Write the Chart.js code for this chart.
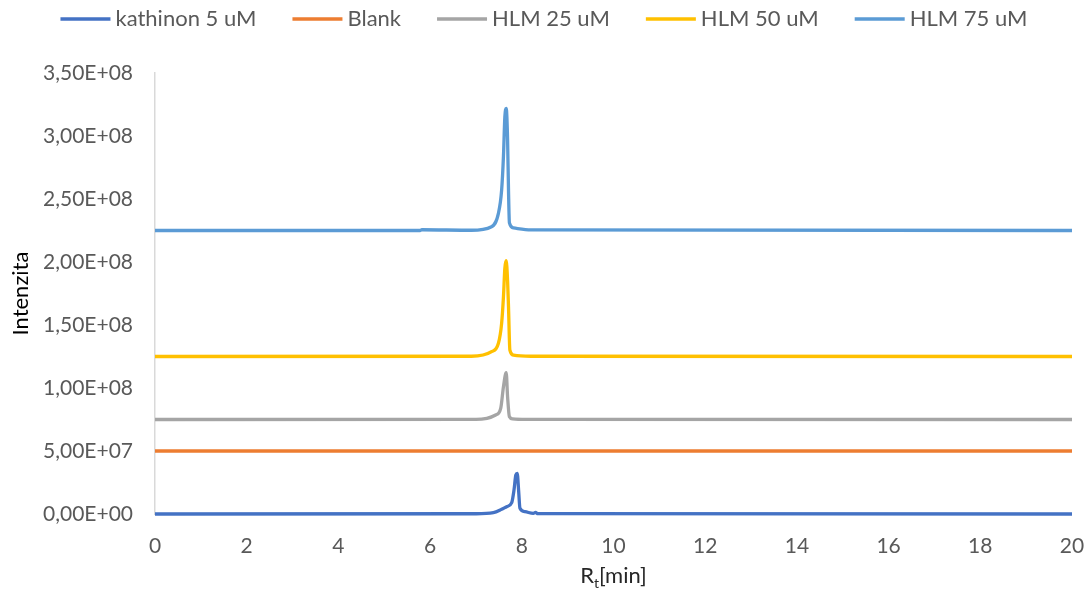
<!DOCTYPE html>
<html>
<head>
<meta charset="utf-8">
<script src="https://cdn.jsdelivr.net/npm/chart.js@4.4.0/dist/chart.umd.min.js"></script>
<style>
  html, body { margin: 0; padding: 0; background: #fff; }
  #wrap { width: 1084px; height: 596px; }
</style>
</head>
<body>
<div id="wrap"><canvas id="chart" width="1084" height="596"></canvas></div>
<script>
// --- Data ---
const seriesNames = ['kathinon 5 uM', 'Blank', 'HLM 25 uM', 'HLM 50 uM', 'HLM 75 uM'];
const seriesColors = ['#4472C4', '#ED7D31', '#A5A5A5', '#FFC000', '#5B9BD5'];

const kathinonX = [0, 7.0, 7.38, 7.56, 7.67, 7.78, 7.83, 7.87, 7.90, 7.93, 7.96, 8.07, 8.25, 8.30, 8.35, 20];
const kathinonY = [0, 2e5, 1.0e6, 3.7e6, 5.8e6, 9.0e6, 1.9e7, 3.1e7, 3.23e7, 1.9e7, 4.5e6, 1.8e6, 5e5, 1.2e6, 3e5, 0];

const blankX = [0, 20];
const blankY = [5.0e7, 5.0e7];

const hlm25X = [0, 7.0, 7.43, 7.54, 7.60, 7.66, 7.69, 7.73, 7.80, 8.1, 20];
const hlm25Y = [7.5e7, 7.51e7, 7.86e7, 8.39e7, 1.01e8, 1.121e8, 9.3e7, 7.72e7, 7.55e7, 7.51e7, 7.5e7];

const hlm50X = [0, 6.9, 7.34, 7.49, 7.56, 7.60, 7.63, 7.66, 7.69, 7.71, 7.74, 7.82, 8.2, 20];
const hlm50Y = [1.25e8, 1.252e8, 1.288e8, 1.355e8, 1.513e8, 1.725e8, 1.95e8, 2.01e8, 1.85e8, 1.645e8, 1.30e8, 1.26e8, 1.252e8, 1.25e8];

const hlm75X = [0, 5.78, 5.82, 6.9, 7.34, 7.49, 7.56, 7.60, 7.63, 7.66, 7.69, 7.71, 7.73, 7.82, 8.2, 20];
const hlm75Y = [2.25e8, 2.25e8, 2.256e8, 2.252e8, 2.28e8, 2.386e8, 2.57e8, 2.84e8, 3.15e8, 3.22e8, 2.97e8, 2.57e8, 2.31e8, 2.27e8, 2.255e8, 2.25e8];

const xTicks = [0, 2, 4, 6, 8, 10, 12, 14, 16, 18, 20];
const yTicks = [0, 5e7, 1e8, 1.5e8, 2e8, 2.5e8, 3e8, 3.5e8];

const FONT = 'Lato, "Open Sans", sans-serif';

function pairs(xs, ys) {
    return xs.map((x, i) => ({ x: x, y: ys[i] }));
}

// 3,50E+08 style
function sciLabel(v) {
    if (v === 0) return '0,00E+00';
    const e = Math.floor(Math.log10(Math.abs(v)) + 1e-9);
    const m = v / Math.pow(10, e);
    const sign = e < 0 ? '-' : '+';
    return m.toFixed(2).replace('.', ',') + 'E' + sign + String(Math.abs(e)).padStart(2, '0');
}

const xs = [kathinonX, blankX, hlm25X, hlm50X, hlm75X];
const ys = [kathinonY, blankY, hlm25Y, hlm50Y, hlm75Y];

const datasets = seriesNames.map((name, i) => ({
    label: name,
    data: pairs(xs[i], ys[i]),
    borderColor: seriesColors[i],
    backgroundColor: seriesColors[i],
    borderWidth: 3.3,
    pointRadius: 0,
    cubicInterpolationMode: 'monotone',
    clip: false,
    order: seriesNames.length - i
}));

// legend like Excel: short line + label, centered on top
const legendPlugin = {
    id: 'topLegend',
    afterDraw(chart) {
        const ctx = chart.ctx;
        const lineW = 50, gap = 5, itemGap = 36, y = 19;
        ctx.save();
        ctx.font = '22px ' + FONT;
        const widths = chart.data.datasets.map(d => ctx.measureText(d.label).width);
        const total = widths.reduce((a, w) => a + lineW + gap + w, 0) + itemGap * (widths.length - 1);
        let x = (chart.width - total) / 2 + 2;
        chart.data.datasets.forEach((d, i) => {
            ctx.strokeStyle = d.borderColor;
            ctx.lineWidth = 3.3;
            ctx.beginPath();
            ctx.moveTo(x, y);
            ctx.lineTo(x + lineW, y);
            ctx.stroke();
            ctx.fillStyle = '#595959';
            ctx.textBaseline = 'middle';
            ctx.textAlign = 'left';
            ctx.fillText(d.label, x + lineW + gap, y);
            x += lineW + gap + widths[i] + itemGap;
        });
        ctx.restore();
    }
};

// x axis title with subscript
const xTitlePlugin = {
    id: 'xTitle',
    afterDraw(chart) {
        const ctx = chart.ctx;
        const area = chart.chartArea;
        const cx = (area.left + area.right) / 2;
        const y = 576;
        ctx.save();
        ctx.fillStyle = '#262626';
        ctx.textBaseline = 'middle';
        ctx.textAlign = 'left';
        ctx.font = '22px ' + FONT;
        const wR = ctx.measureText('R').width;
        const wM = ctx.measureText('[min]').width;
        ctx.font = '14px ' + FONT;
        const wt = ctx.measureText('t').width;
        let x = cx - (wR + wt + wM) / 2;
        ctx.font = '22px ' + FONT;
        ctx.fillText('R', x, y);
        x += wR;
        ctx.font = '14px ' + FONT;
        ctx.fillText('t', x, y + 7);
        x += wt;
        ctx.font = '22px ' + FONT;
        ctx.fillText('[min]', x, y);
        ctx.restore();
    }
};

new Chart(document.getElementById('chart').getContext('2d'), {
    type: 'line',
    data: { datasets: datasets },
    options: {
        responsive: false,
        animation: false,
        layout: { padding: { left: 0, right: 12, top: 73, bottom: 0 } },
        plugins: {
            legend: { display: false },
            tooltip: { enabled: false }
        },
        scales: {
            x: {
                type: 'linear',
                min: 0,
                max: 20,
                afterBuildTicks: (s) => { s.ticks = xTicks.map(v => ({ value: v })); },
                afterFit: (s) => { s.height = 82; s.paddingLeft = 0; s.paddingRight = 0; },
                grid: { display: false, drawTicks: false },
                border: { display: false },
                ticks: { color: '#595959', font: { family: FONT, size: 21 }, padding: 20, maxRotation: 0 }
            },
            y: {
                min: 0,
                max: 3.5e8,
                afterBuildTicks: (s) => { s.ticks = yTicks.map(v => ({ value: v })); },
                afterFit: (s) => { s.width = 155; s.paddingTop = 0; s.paddingBottom = 0; },
                grid: { display: false, drawTicks: false },
                border: { display: true, color: '#D9D9D9', width: 1.5 },
                title: { display: true, text: 'Intenzita', color: '#000000', font: { family: FONT, size: 22 }, padding: { top: 8, bottom: 0 } },
                ticks: { color: '#595959', font: { family: FONT, size: 21 }, padding: 22, callback: (v) => sciLabel(v) }
            }
        }
    },
    plugins: [legendPlugin, xTitlePlugin]
});
</script>
</body>
</html>
